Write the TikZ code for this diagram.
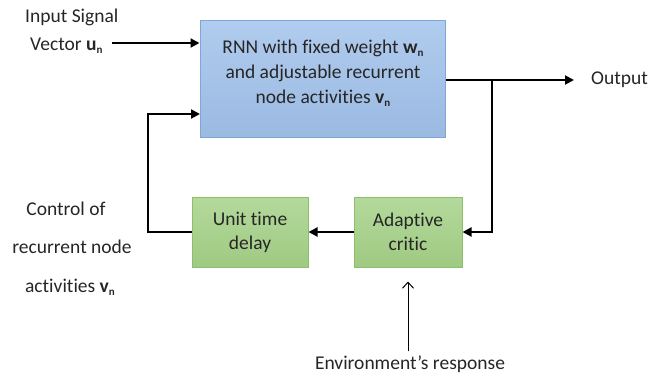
\documentclass[tikz,border=0pt]{standalone}
\usepackage{fontspec}
\setmainfont{Carlito}[RawFeature={-liga;-clig;-dlig}]
\usetikzlibrary{arrows.meta}

\definecolor{BoxBlueTop}{HTML}{B0CCEE}
\definecolor{BoxBlueBot}{HTML}{9BBAE2}
\definecolor{BoxBlueLine}{HTML}{7FA6D8}
\definecolor{BoxGreenTop}{HTML}{B4D99C}
\definecolor{BoxGreenBot}{HTML}{9FCA82}
\definecolor{BoxGreenLine}{HTML}{8CBF6A}

\tikzset{
  flow/.style={line width=2pt, -{Triangle[length=9pt,width=9pt]}},
  thinflow/.style={line width=1pt, -{Straight Barb[length=6pt,width=11pt]}},
  bluebox/.style={draw=BoxBlueLine, line width=1pt, top color=BoxBlueTop, bottom color=BoxBlueBot, inner sep=0pt},
  greenbox/.style={draw=BoxGreenLine, line width=1pt, top color=BoxGreenTop, bottom color=BoxGreenBot, inner sep=0pt},
  label/.style={inner sep=0pt, text=black!85, font=\fontsize{19.5}{23}\selectfont}
}
\newcommand{\bsub}[2]{{\bfseries #1}\raisebox{-3pt}{\fontsize{11}{11}\selectfont\bfseries #2}}

\begin{document}
\begin{tikzpicture}[x=1pt, y=-1pt]
  \useasboundingbox (0,0) rectangle (648,376);

  \node [bluebox, minimum width=245pt, minimum height=117pt] (RNN_node) at (322.5,78.5) {};
  \node [label, align=center] (RNN_text) at (323,73) {RNN with fixed weight \bsub{w}{n}\\[2pt] and adjustable recurrent\\[2pt] node activities \bsub{v}{n}};
  \node [greenbox, minimum width=116pt, minimum height=70pt, label, align=center] (Delay_node) at (250,232) {Unit time\\[1pt] delay};
  \node [greenbox, minimum width=108pt, minimum height=70pt, label, align=center] (Critic_node) at (408,232) {Adaptive\\[1pt] critic};

  \node [label, anchor=west] (Input_label) at (25,17) {Input Signal};
  \node [label, anchor=west] (Vector_label) at (30,46) {Vector \bsub{u}{n}};
  \node [label] (Control_label) at (66,209) {Control of};
  \node [label] (Recurrent_label) at (72,247) {recurrent node};
  \node [label] (Activities_label) at (70,287) {activities \bsub{v}{n}};
  \node [label, anchor=west] (Output_node) at (591,80) {Output};
  \node [label] (Env_node) at (410,364) {Environment’s response};

  \coordinate (Input_start) at (112,43);
  \coordinate (Fb_in) at (200,114);
  \coordinate (Branch) at (492,80);

  \draw [flow] (Input_start) -- (RNN_node.west |- Input_start);
  \draw [flow, shorten >=17pt] (RNN_node.east |- Branch) -- (Output_node.west);
  \draw [flow] (Branch) |- (Critic_node.east);
  \draw [flow] (Critic_node.west) -- (Delay_node.east);
  \draw [flow] (Delay_node.west) -- ++(-44,0) |- (Fb_in);
  \draw [thinflow, shorten >=14pt] (Env_node.north -| Critic_node.south) ++(0,-4) -- (Critic_node.south);
\end{tikzpicture}
\end{document}
